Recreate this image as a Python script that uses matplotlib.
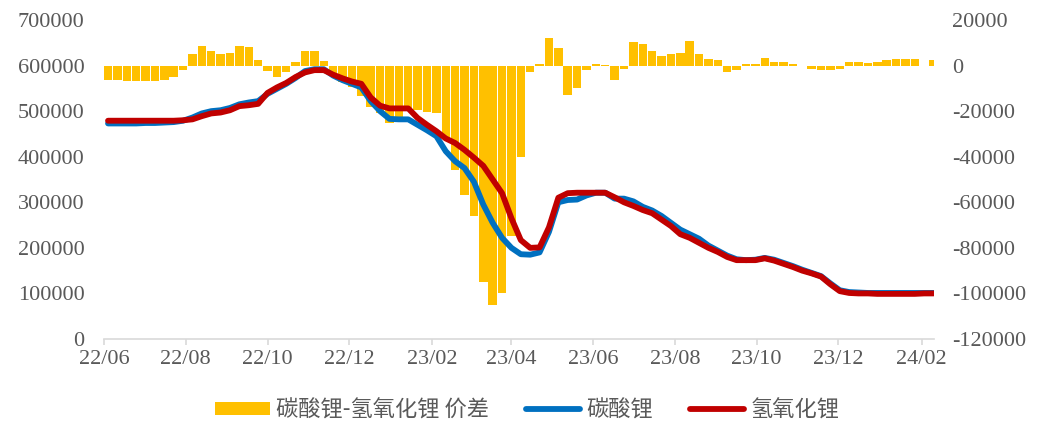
import matplotlib
matplotlib.use('agg')
import matplotlib.pyplot as plt
import matplotlib.dates as mdates
from matplotlib.patches import Patch
from matplotlib.lines import Line2D
import numpy as np
import pandas as pd

# weekly samples, 2022-06 .. 2024-02
week_start = '2022-06-04'
n_weeks = 89

# 碳酸锂-氢氧化锂 价差 (right axis)
spread = [-6500, -6500, -6600, -6600, -6600, -6600, -6500, -5000, -2000, 5000,
          8500, 6500, 5000, 5500, 8500, 8000, 2500, -2500, -5000, -3000,
          1500, 6500, 6500, 2000, -4500, -7000, -9500, -13500, -18000, -21000,
          -25000, -23000, -20000, -19500, -20500, -21000, -32000, -46000, -57000, -66000,
          -95000, -105000, -100000, -75000, -40000, -3000, 700, 12000, 7500, -13000,
          -10000, -2000, 500, 300, -6500, -1500, 10500, 9500, 6500, 4000,
          5000, 5500, 11000, 5000, 3000, 2500, -3000, -2000, 500, 500,
          3500, 1500, 1500, 500, -300, -1500, -2000, -2000, -1500, 1500,
          1500, 1200, 1500, 2500, 3000, 3000, 3000, 0, 2500]

# 碳酸锂 (left axis)
carbonate = [473000, 473000, 473000, 473000, 474000, 474000, 475000, 476000, 479000, 486000,
             495000, 500000, 502000, 507000, 515000, 519000, 522000, 538000, 549000, 560000,
             573000, 588000, 592000, 592000, 578000, 568000, 560000, 552000, 522000, 500000,
             483000, 482000, 482000, 470000, 458000, 445000, 412000, 390000, 375000, 345000,
             295000, 255000, 222000, 200000, 186000, 185000, 190000, 235000, 300000, 305000,
             306000, 315000, 321000, 321000, 308000, 308000, 302000, 290000, 282000, 270000,
             255000, 240000, 230000, 220000, 205000, 194000, 183000, 175000, 173000, 174000,
             178000, 174000, 167000, 160000, 152000, 145000, 138000, 122000, 107000, 103000,
             102000, 101000, 101000, 101000, 101000, 101000, 101000, 101000, 101000]

# 氢氧化锂 (left axis)
hydroxide = [479000, 479000, 479000, 479000, 479000, 479000, 479000, 479000, 480000, 482000,
             489000, 495000, 497000, 502000, 511000, 513000, 516000, 540000, 552000, 562000,
             575000, 585000, 590000, 590000, 580000, 572000, 565000, 560000, 530000, 512000,
             506000, 506000, 506000, 485000, 470000, 456000, 440000, 430000, 415000, 398000,
             380000, 350000, 320000, 265000, 217000, 200000, 201000, 245000, 310000, 320000,
             321000, 321000, 321000, 321000, 311000, 300000, 292000, 283000, 276000, 262000,
             248000, 230000, 222000, 211000, 200000, 191000, 180000, 173000, 173000, 173000,
             177000, 172000, 165000, 158000, 150000, 144000, 137000, 120000, 105000, 101000,
             100000, 100000, 99000, 99000, 99000, 99000, 99000, 100000, 100000]

left_ticks = [0, 100000, 200000, 300000, 400000, 500000, 600000, 700000]
right_ticks = [-120000, -100000, -80000, -60000, -40000, -20000, 0, 20000]

label_spread = '碳酸锂-氢氧化锂 价差'
label_carb = '碳酸锂'
label_hyd = '氢氧化锂'

plt.rcParams['axes.unicode_minus'] = False
num_font = ['Liberation Serif', 'Noto Sans CJK SC']
cjk_font = ['Noto Sans CJK SC', 'DejaVu Sans']
grey = '#595959'

dates = pd.date_range(week_start, periods=n_weeks, freq='7D')

fig = plt.figure(figsize=(10.38, 4.24), dpi=100)
ax = fig.add_axes([0.1002, 0.2005, 0.7996, 0.7523])
ax2 = ax.twinx()

# bars behind the lines
ax.set_zorder(ax2.get_zorder() + 1)
ax.patch.set_visible(False)

ax2.bar(dates, spread, width=6.3, color='#FFC000', linewidth=0)
ax.plot(dates, carbonate, color='#0070C0', lw=4.2, solid_joinstyle='round', solid_capstyle='round')
ax.plot(dates, hydroxide, color='#C00000', lw=4.2, solid_joinstyle='round', solid_capstyle='round')

ax.set_xlim(pd.Timestamp('2022-06-01'), pd.Timestamp('2022-06-01') + pd.Timedelta(days=619.3))
ax.set_ylim(0, 700000)
ax2.set_ylim(-120000, 20000)
ax.set_yticks(left_ticks)
ax2.set_yticks(right_ticks)

ax.xaxis.set_major_locator(mdates.MonthLocator(bymonth=[2, 4, 6, 8, 10, 12]))
ax.xaxis.set_major_formatter(mdates.DateFormatter('%y/%m'))

for a in (ax, ax2):
    for s in ['top', 'left', 'right', 'bottom']:
        a.spines[s].set_visible(False)
ax.spines['bottom'].set_visible(True)
ax.spines['bottom'].set_color('#d9d9d9')
ax.spines['bottom'].set_linewidth(1.2)

ax.tick_params(axis='x', direction='out', length=4, width=1.2, color='#d9d9d9',
               labelcolor=grey, labelsize=16, pad=4)
ax.tick_params(axis='y', length=0, labelcolor=grey, labelsize=16, pad=14)
ax2.tick_params(axis='y', length=0, labelcolor=grey, labelsize=16, pad=13)
for lab in ax.get_xticklabels() + ax.get_yticklabels() + ax2.get_yticklabels():
    lab.set_family(num_font)

handles = [Patch(facecolor='#FFC000', edgecolor='none'),
           Line2D([0], [0], color='#0070C0', lw=4.2, solid_capstyle='round'),
           Line2D([0], [0], color='#C00000', lw=4.2, solid_capstyle='round')]
leg = fig.legend(handles, [label_spread, label_carb, label_hyd], ncol=3,
                 loc='center', bbox_to_anchor=(0.508, 0.033), frameon=False,
                 prop={'family': cjk_font, 'size': 16}, handlelength=2.45,
                 handleheight=0.5, handletextpad=0.28, columnspacing=1.65,
                 borderpad=0)
for t in leg.get_texts():
    t.set_color(grey)

fig.savefig('out.png', dpi=100)
